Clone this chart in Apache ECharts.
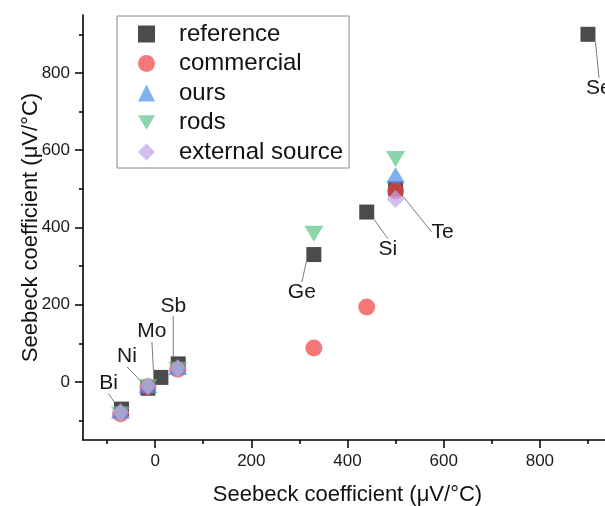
<!DOCTYPE html>
<html>
<head>
<meta charset="utf-8">
<script src="https://cdn.jsdelivr.net/npm/echarts@6/dist/echarts.min.js"></script>
<style>html,body{margin:0;padding:0;background:#fff;}#chart{width:605px;height:506px;}</style>
</head>
<body>
<div id="chart"></div>
<script>
// ---- data ----
const elements = ['Bi', 'Ni', 'Mo', 'Sb', 'Ge', 'Si', 'Te', 'Se'];
const referenceX = [-70, -15, 12, 48, 330, 440, 500, 900];
const referenceY = [-70, -16, 12, 47, 330, 440, 500, 900];

const commercialX = [-72, -15, 47, 330, 440, 500];
const commercialY = [-82, -12, 33, 88, 194, 495];

const oursX = [-72, -15, 47, 500];
const oursY = [-74, -8, 39, 535];

const rodsX = [-72, -15, 47, 330, 500];
const rodsY = [-84, -13, 32, 384, 577];

const externalX = [-72, -15, 47, 500];
const externalY = [-79, -10, 36, 474];

const majorTicks = [0, 200, 400, 600, 800];
const minorTicks = [-100, 100, 300, 500, 700, 900];
const axisMin = -150, axisMax = 950;

// ---- layout / style ----
const FONT = 'Liberation Sans, Arial, sans-serif';
const labelOffsets = {Bi:[-13,-26], Ni:[-21,-32], Mo:[-9,-46], Sb:[-5,-58], Ge:[-12,38], Si:[21,37], Te:[47,43], Se:[11,54]};
const DOWN_TRIANGLE = 'path://M0,0L2,0L1,1.7Z';

function pairs(xs, ys) { return xs.map((x, i) => [x, ys[i]]); }

const chart = echarts.init(document.getElementById('chart'), null, {renderer: 'canvas'});

function mainAxis(isX) {
  return {
    type: 'value', min: axisMin, max: axisMax,
    position: isX ? 'bottom' : 'left',
    name: 'Seebeck coefficient (μV/°C)',
    nameLocation: 'middle',
    nameGap: isX ? 44 : 41,
    nameMoveOverlap: false,
    nameTextStyle: {fontFamily: FONT, fontSize: 22, color: '#111'},
    axisLine: {show: true, onZero: false, lineStyle: {color: '#000', width: 1.6}},
    axisTick: {show: true, inside: false, length: 8, customValues: majorTicks, lineStyle: {color: '#000', width: 1.5}},
    axisLabel: {show: true, customValues: majorTicks, margin: 13, fontFamily: FONT, fontSize: 17, color: '#1a1a1a'},
    splitLine: {show: false}
  };
}
function minorAxis(isX) {
  return {
    type: 'value', min: axisMin, max: axisMax,
    position: isX ? 'bottom' : 'left', offset: 0,
    axisLine: {show: false, onZero: false},
    axisTick: {show: true, inside: false, length: 4, customValues: minorTicks, lineStyle: {color: '#000', width: 1.5}},
    axisLabel: {show: false},
    splitLine: {show: false}
  };
}

const option = {
  backgroundColor: '#fff',
  animation: false,
  textStyle: {fontFamily: FONT},
  grid: {left: 83, top: 15, width: 529, height: 425, containLabel: false, outerBoundsMode: 'none'},
  xAxis: [mainAxis(true), minorAxis(true)],
  yAxis: [mainAxis(false), minorAxis(false)],
  legend: {
    orient: 'vertical', left: 117, top: 16,
    padding: [5, 6, 3, 21],
    itemWidth: 17, itemHeight: 17, itemGap: 3.5,
    borderColor: '#8a8a8a', borderWidth: 1,
    textStyle: {fontFamily: FONT, fontSize: 24, color: '#111', lineHeight: 26, padding: [0, 0, 0, 19]},
    data: ['reference', 'commercial', 'ours', 'rods', 'external source']
  },
  series: [
    {
      name: 'reference', type: 'scatter', symbol: 'rect', symbolSize: 15,
      itemStyle: {color: '#454545', opacity: 0.97},
      data: elements.map((n, i) => ({name: n, value: [referenceX[i], referenceY[i]]})),
      label: {show: true, position: 'inside', formatter: '{b}', fontFamily: FONT, fontSize: 21, color: '#111'},
      labelLayout: function (p) {
        const o = labelOffsets[elements[p.dataIndex]];
        return {dx: o[0], dy: o[1]};
      },
      labelLine: {show: true, lineStyle: {color: '#7a7a7a', width: 1}},
      z: 2
    },
    {
      name: 'commercial', type: 'scatter', symbol: 'circle', symbolSize: 17,
      itemStyle: {color: 'rgb(239,62,62)', opacity: 0.7},
      data: pairs(commercialX, commercialY), z: 3
    },
    {
      name: 'ours', type: 'scatter', symbol: 'triangle', symbolSize: [19, 16],
      itemStyle: {color: 'rgb(72,142,234)', opacity: 0.7},
      data: pairs(oursX, oursY), z: 4
    },
    {
      name: 'rods', type: 'scatter', symbol: DOWN_TRIANGLE, symbolSize: [19, 16],
      itemStyle: {color: 'rgb(91,194,134)', opacity: 0.7},
      data: pairs(rodsX, rodsY), z: 5
    },
    {
      name: 'external source', type: 'scatter', symbol: 'diamond', symbolSize: 18,
      itemStyle: {color: 'rgb(195,161,234)', opacity: 0.7},
      data: pairs(externalX, externalY), z: 6
    }
  ]
};
chart.setOption(option);
</script>
</body>
</html>
